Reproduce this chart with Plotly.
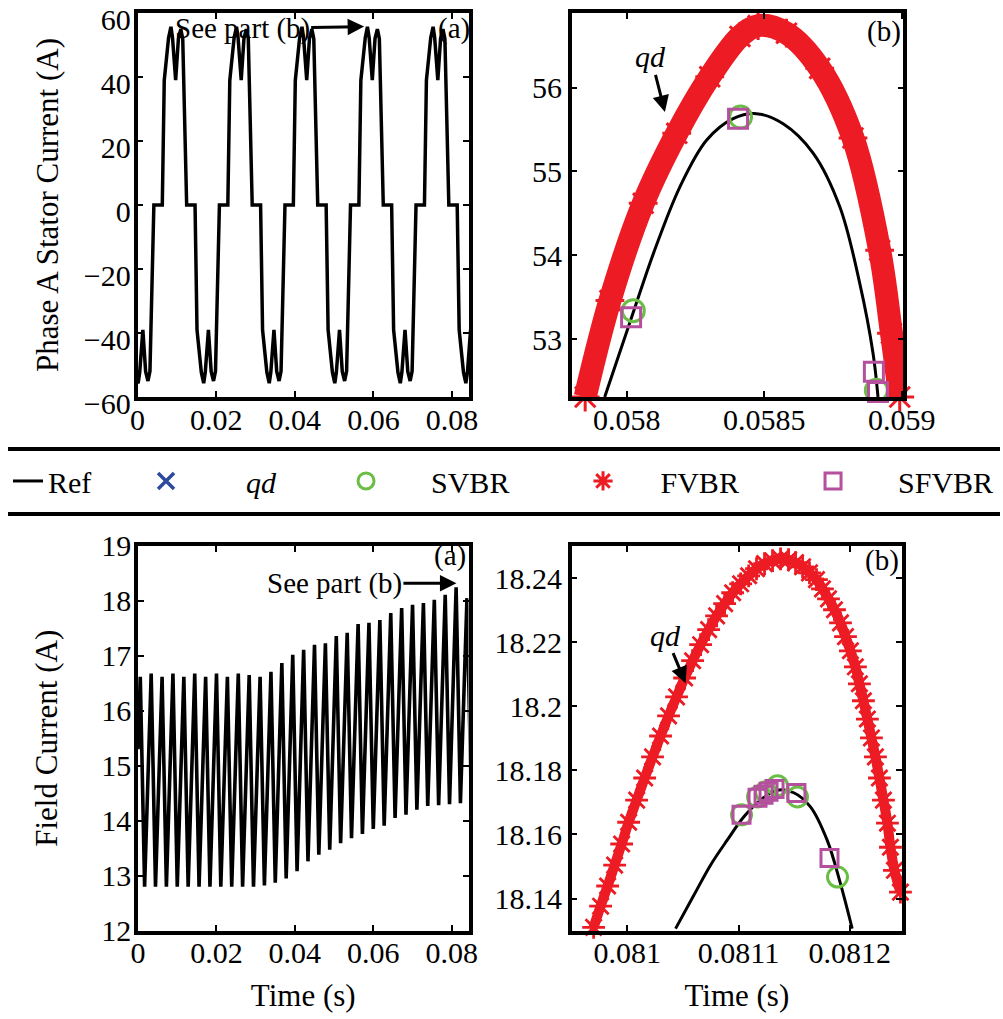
import plotly.graph_objects as go

FONT = "Liberation Serif, Times New Roman, serif"

# ---------------- data ----------------
# (a) Phase A stator current, reference waveform
phase_t = [0.0, 0.00016, 0.00056, 0.00136, 0.00206, 0.00266, 0.00316, 0.00416,
           0.0063, 0.0068, 0.0079, 0.0085, 0.0089, 0.0097, 0.0104, 0.0110, 0.0115, 0.0125,
           0.01463, 0.01513, 0.01623, 0.01683, 0.01723, 0.01803, 0.01873, 0.01933, 0.01983, 0.02083,
           0.02297, 0.02347, 0.02457, 0.02517, 0.02557, 0.02637, 0.02707, 0.02767, 0.02817, 0.02917,
           0.03130, 0.03180, 0.03290, 0.03350, 0.03390, 0.03470, 0.03540, 0.03600, 0.03650, 0.03750,
           0.03963, 0.04013, 0.04123, 0.04183, 0.04223, 0.04303, 0.04373, 0.04433, 0.04483, 0.04583,
           0.04797, 0.04847, 0.04957, 0.05017, 0.05057, 0.05137, 0.05207, 0.05267, 0.05317, 0.05417,
           0.05630, 0.05680, 0.05792, 0.05847, 0.05891, 0.05970, 0.06040, 0.06100, 0.06150, 0.06250,
           0.06463, 0.06513, 0.06623, 0.06683, 0.06723, 0.06803, 0.06873, 0.06933, 0.06983, 0.07083,
           0.07297, 0.07347, 0.07457, 0.07517, 0.07557, 0.07637, 0.07707, 0.07767, 0.07817, 0.07917,
           0.08130, 0.08180, 0.08290, 0.08350, 0.08390, 0.08470]
phase_i = [-55.3, -55.7, -52.3, -39, -52, -55, -52, 0,
           0, 39, 52.3, 55.7, 52.3, 39, 52, 55, 52, 0,
           0, -39, -52.3, -55.7, -52.3, -39, -52, -55, -52, 0,
           0, 39, 52.3, 55.7, 52.3, 39, 52, 55, 52, 0,
           0, -39, -52.3, -55.7, -52.3, -39, -52, -55, -52, 0,
           0, 39, 52.3, 55.7, 52.3, 39, 52, 55, 52, 0,
           0, -39, -52.3, -55.7, -52.3, -39, -52, -55, -52, 0,
           0, 39, 52.3, 55.7, 52.3, 39, 52, 55, 52, 0,
           0, -39, -52.3, -55.7, -52.3, -39, -52, -55, -52, 0,
           0, 39, 52.3, 55.7, 52.3, 39, 52, 55, 52, 0,
           0, -39, -52.3, -55.7, -52.3, -39]

# (b) zoom on the phase current peak
zb1_ref_t = [0.05792, 0.058024, 0.058097, 0.058194, 0.058291, 0.058387, 0.058472,
             0.058569, 0.058678, 0.058775, 0.058848, 0.058896, 0.058914]
zb1_ref_i = [52.31, 53.32, 54.02, 54.82, 55.375, 55.63, 55.69,
             55.57, 55.22, 54.58, 53.66, 52.83, 52.31]
zb1_fvbr_t = [0.057849, 0.057939, 0.05806, 0.058182, 0.058302, 0.058412, 0.058478,
              0.058581, 0.058702, 0.058823, 0.05892, 0.058963, 0.058993]
zb1_fvbr_i = [52.31, 53.46, 54.62, 55.455, 56.13, 56.61, 56.74,
              56.65, 56.23, 55.40, 54.06, 53.07, 52.31]
zb1_qd_t = zb1_fvbr_t          # qd lies under the FVBR markers
zb1_qd_i = zb1_fvbr_i
zb1_svbr_t = [0.058024, 0.058414, 0.058908]
zb1_svbr_i = [53.34, 55.65, 52.39]
zb1_sfvbr_t = [0.058016, 0.058405, 0.058899, 0.058914]
zb1_sfvbr_i = [53.26, 55.63, 52.61, 52.37]

# (a) field current: alternating peaks / troughs
field_t = [0.0,
           0.00058, 0.00168, 0.00336, 0.00446, 0.00614, 0.00724, 0.00891, 0.01001,
           0.01169, 0.01279, 0.01447, 0.01557, 0.01725, 0.01835, 0.02002, 0.02112,
           0.02280, 0.02390, 0.02558, 0.02668, 0.02836, 0.02946, 0.03114, 0.03224,
           0.03391, 0.03501, 0.03669, 0.03779, 0.03947, 0.04057, 0.04225, 0.04335,
           0.04502, 0.04612, 0.04780, 0.04890, 0.05058, 0.05168, 0.05336, 0.05446,
           0.05614, 0.05724, 0.05891, 0.06001, 0.06169, 0.06279, 0.06447, 0.06557,
           0.06725, 0.06835, 0.07003, 0.07113, 0.07280, 0.07390, 0.07558, 0.07668,
           0.07836, 0.07946, 0.08114, 0.08224, 0.08391, 0.08501]
field_i = [15.3,
           16.62, 12.8, 16.68, 12.8, 16.62, 12.8, 16.68, 12.8,
           16.62, 12.8, 16.68, 12.8, 16.62, 12.8, 16.68, 12.8,
           16.62, 12.8, 16.68, 12.8, 16.65, 12.8, 16.62, 12.82,
           16.71, 12.87, 16.87, 12.95, 17.02, 13.08, 17.11, 13.26,
           17.20, 13.38, 17.23, 13.47, 17.36, 13.59, 17.42, 13.68,
           17.58, 13.76, 17.60, 13.85, 17.65, 13.91, 17.78, 14.05,
           17.87, 14.11, 17.93, 14.20, 17.96, 14.27, 18.02, 14.28,
           18.11, 14.30, 18.246, 14.32, 18.05, 14.35]

# (b) zoom on the field current peak
zb2_ref_t = [0.0810434, 0.0810598, 0.0810748, 0.0810898, 0.0811048, 0.0811198,
             0.0811348, 0.0811497, 0.0811647, 0.0811797, 0.0811916, 0.0812022]
zb2_ref_i = [18.1306, 18.1410, 18.1504, 18.1582, 18.1655, 18.1707,
             18.1738, 18.1730, 18.1686, 18.1582, 18.1447, 18.1306]
zb2_fvbr_t = [0.0809697, 0.0809760, 0.0809823, 0.0809886, 0.0809949, 0.0810012,
              0.0810084, 0.0810156, 0.0810227, 0.0810299, 0.0810371, 0.0810443,
              0.0810515, 0.0810587, 0.0810659, 0.0810731, 0.0810803, 0.0810875,
              0.0810947, 0.0811019, 0.0811091, 0.0811162, 0.0811234, 0.0811306,
              0.0811378, 0.0811450, 0.0811513, 0.0811576, 0.0811638, 0.0811701,
              0.0811755, 0.0811809, 0.0811863, 0.0811917, 0.0811962, 0.0812006,
              0.0812051, 0.0812087, 0.0812123, 0.0812159, 0.0812195, 0.0812231,
              0.0812267, 0.0812303, 0.0812339, 0.0812366, 0.0812402, 0.0812456]
zb2_fvbr_i = [18.1310, 18.1376, 18.1439, 18.1504, 18.1570, 18.1638,
              18.1707, 18.1776, 18.1842, 18.1907, 18.1970, 18.2029,
              18.2088, 18.2142, 18.2192, 18.2239, 18.2282, 18.2320,
              18.2354, 18.2382, 18.2407, 18.2429, 18.2445, 18.2454,
              18.2460, 18.2457, 18.2448, 18.2435, 18.2416, 18.2395,
              18.2366, 18.2335, 18.2301, 18.2260, 18.2217, 18.2173,
              18.2123, 18.2070, 18.2017, 18.1960, 18.1901, 18.1842,
              18.1776, 18.1707, 18.1635, 18.1560, 18.1488, 18.1420]
zb2_qd_t = zb2_fvbr_t
zb2_qd_i = zb2_fvbr_i
zb2_svbr_t = [0.0811027, 0.0811171, 0.0811243, 0.0811351, 0.0811530, 0.0811890]
zb2_svbr_i = [18.1661, 18.1717, 18.1733, 18.1752, 18.1717, 18.1467]
zb2_sfvbr_t = [0.0811027, 0.0811171, 0.0811225, 0.0811270, 0.0811324, 0.0811521, 0.0811818]
zb2_sfvbr_i = [18.1661, 18.1714, 18.1724, 18.1733, 18.1742, 18.1729, 18.1526]

# tick labels
ticks_a_x = [0, 0.02, 0.04, 0.06, 0.08]
ticks_a_x_txt = ["0", "0.02", "0.04", "0.06", "0.08"]
ticks_phase_y = [-60, -40, -20, 0, 20, 40, 60]
ticks_zb1_x = [0.058, 0.0585, 0.059]
ticks_zb1_x_txt = ["0.058", "0.0585", "0.059"]
ticks_zb1_y = [53, 54, 55, 56]
ticks_field_y = [12, 13, 14, 15, 16, 17, 18, 19]
ticks_zb2_x = [0.081, 0.0811, 0.0812]
ticks_zb2_x_txt = ["0.081", "0.0811", "0.0812"]
ticks_zb2_y = [18.14, 18.16, 18.18, 18.2, 18.22, 18.24]
ticks_zb2_y_txt = ["18.14", "18.16", "18.18", "18.2", "18.22", "18.24"]

# ---------------- styling ----------------
RED = "#ED1C24"
GREEN = "#6ABD45"
MAGENTA = "#B4509E"
BLUE = "#2E4A9E"
NB = "\u00a0"

fig = go.Figure()

# top-left
fig.add_trace(go.Scatter(x=phase_t, y=phase_i, mode="lines", xaxis="x", yaxis="y",
                         line=dict(color="black", width=3.5), showlegend=False))

# top-right
fig.add_trace(go.Scatter(x=zb1_qd_t, y=zb1_qd_i, mode="markers", xaxis="x2", yaxis="y2",
                         name=NB * 8 + "<i>qd</i>", legendrank=2, legendwidth=155,
                         marker=dict(symbol="x-thin-open", size=16, color=BLUE,
                                     line=dict(color=BLUE, width=3.5))))
fig.add_trace(go.Scatter(x=zb1_fvbr_t, y=zb1_fvbr_i, mode="lines", xaxis="x2", yaxis="y2",
                         line=dict(color=RED, width=23, shape="spline"), showlegend=False))
fig.add_trace(go.Scatter(x=zb1_fvbr_t, y=zb1_fvbr_i, mode="markers", xaxis="x2", yaxis="y2",
                         name=NB * 5 + "FVBR", legendrank=4, legendwidth=185, cliponaxis=False,
                         marker=dict(symbol="asterisk-open", size=24, color=RED,
                                     line=dict(color=RED, width=3))))
fig.add_trace(go.Scatter(x=zb1_ref_t, y=zb1_ref_i, mode="lines", xaxis="x2", yaxis="y2",
                         name="Ref", legendrank=1, legendwidth=93,
                         line=dict(color="black", width=3, shape="spline")))
fig.add_trace(go.Scatter(x=zb1_svbr_t, y=zb1_svbr_i, mode="markers", xaxis="x2", yaxis="y2",
                         name=NB * 6 + "SVBR", legendrank=3, legendwidth=192, cliponaxis=False,
                         marker=dict(symbol="circle-open", size=22, color=GREEN,
                                     line=dict(color=GREEN, width=3))))
fig.add_trace(go.Scatter(x=zb1_sfvbr_t, y=zb1_sfvbr_i, mode="markers", xaxis="x2", yaxis="y2",
                         name=NB * 6 + "SFVBR", legendrank=5, legendwidth=140, cliponaxis=False,
                         marker=dict(symbol="square-open", size=19, color=MAGENTA,
                                     line=dict(color=MAGENTA, width=3))))

# bottom-left
fig.add_trace(go.Scatter(x=field_t, y=field_i, mode="lines", xaxis="x3", yaxis="y3",
                         line=dict(color="black", width=3.6), showlegend=False))

# bottom-right
fig.add_trace(go.Scatter(x=zb2_qd_t, y=zb2_qd_i, mode="markers", xaxis="x4", yaxis="y4",
                         showlegend=False,
                         marker=dict(symbol="x-thin-open", size=12, color=BLUE,
                                     line=dict(color=BLUE, width=2))))
fig.add_trace(go.Scatter(x=zb2_fvbr_t, y=zb2_fvbr_i, mode="lines", xaxis="x4", yaxis="y4",
                         line=dict(color=RED, width=10, shape="spline"), showlegend=False))
fig.add_trace(go.Scatter(x=zb2_fvbr_t, y=zb2_fvbr_i, mode="markers", xaxis="x4", yaxis="y4",
                         showlegend=False, cliponaxis=False,
                         marker=dict(symbol="asterisk-open", size=19, color=RED,
                                     line=dict(color=RED, width=2.8))))
fig.add_trace(go.Scatter(x=zb2_ref_t, y=zb2_ref_i, mode="lines", xaxis="x4", yaxis="y4",
                         showlegend=False, line=dict(color="black", width=3, shape="spline")))
fig.add_trace(go.Scatter(x=zb2_svbr_t, y=zb2_svbr_i, mode="markers", xaxis="x4", yaxis="y4",
                         showlegend=False, cliponaxis=False,
                         marker=dict(symbol="circle-open", size=20, color=GREEN,
                                     line=dict(color=GREEN, width=3))))
fig.add_trace(go.Scatter(x=zb2_sfvbr_t, y=zb2_sfvbr_i, mode="markers", xaxis="x4", yaxis="y4",
                         showlegend=False, cliponaxis=False,
                         marker=dict(symbol="square-open", size=17, color=MAGENTA,
                                     line=dict(color=MAGENTA, width=3))))


def ax(**kw):
    d = dict(showline=True, linecolor="black", linewidth=3.5, mirror="allticks",
             ticks="inside", ticklen=6, tickwidth=2, tickcolor="black",
             showgrid=False, zeroline=False, automargin=False,
             ticklabeloverflow="allow",
             tickfont=dict(size=30, family=FONT, color="black"))
    d.update(kw)
    return d


TITLE_FONT = dict(size=31, family=FONT, color="black")

fig.update_layout(
    width=1003, height=1019, autosize=False,
    margin=dict(l=0, r=0, t=0, b=0, autoexpand=False),
    paper_bgcolor="white", plot_bgcolor="white",
    font=dict(family=FONT, color="black", size=30),
    xaxis=ax(domain=[0.1371, 0.4676], range=[0, 0.0843], anchor="y",
             tickvals=ticks_a_x, ticktext=ticks_a_x_txt, ticklabelstandoff=-7),
    yaxis=ax(domain=[0.6104, 0.9872], range=[-60, 60], anchor="x",
             tickvals=ticks_phase_y, ticklabelstandoff=-3, ticklabelshift=6,
             title=dict(text="Phase A Stator Current (A)", font=TITLE_FONT, standoff=17)),
    xaxis2=ax(domain=[0.5700, 0.9006], range=[0.0578, 0.059006], anchor="y2",
              tickvals=ticks_zb1_x, ticktext=ticks_zb1_x_txt, ticklabelstandoff=-7),
    yaxis2=ax(domain=[0.6104, 0.9872], range=[52.31, 56.89], anchor="x2",
              tickvals=ticks_zb1_y),
    xaxis3=ax(domain=[0.1376, 0.4671], range=[0, 0.0843], anchor="y3",
              tickvals=ticks_a_x, ticktext=ticks_a_x_txt, ticklabelstandoff=-7,
              title=dict(text="Time (s)", font=TITLE_FONT, standoff=17)),
    yaxis3=ax(domain=[0.0868, 0.4642], range=[12, 19], anchor="x3",
              tickvals=ticks_field_y, ticklabelstandoff=-3,
              title=dict(text="Field Current (A)", font=TITLE_FONT, standoff=35)),
    xaxis4=ax(domain=[0.5700, 0.8993], range=[0.08095, 0.081247], anchor="y4",
              tickvals=ticks_zb2_x, ticktext=ticks_zb2_x_txt, ticklabelstandoff=-7,
              title=dict(text="Time (s)", font=TITLE_FONT, standoff=17)),
    yaxis4=ax(domain=[0.0868, 0.4642], range=[18.13, 18.25], anchor="x4",
              tickvals=ticks_zb2_y, ticktext=ticks_zb2_y_txt),
    legend=dict(orientation="h", x=0.008, xanchor="left", y=0.528, yanchor="middle",
                font=dict(size=30, family=FONT, color="black"),
                itemwidth=30, itemsizing="trace", bgcolor="rgba(0,0,0,0)",
                borderwidth=0, traceorder="normal"),
    shapes=[
        dict(type="line", xref="paper", yref="paper", x0=0.008, x1=0.997,
             y0=0.5594, y1=0.5594, line=dict(color="black", width=4)),
        dict(type="line", xref="paper", yref="paper", x0=0.008, x1=0.997,
             y0=0.4956, y1=0.4956, line=dict(color="black", width=4)),
    ],
)

ANN_FONT = dict(size=29, family=FONT, color="black")
arrow = dict(showarrow=True, arrowhead=2, arrowsize=1.1, arrowwidth=3, arrowcolor="black")
annotations = [
    dict(text="(a)", xref="x domain", yref="y domain", x=1.01, y=0.961,
         xanchor="right", yanchor="middle", showarrow=False, font=ANN_FONT),
    dict(text="(b)", xref="x2 domain", yref="y2 domain", x=0.999, y=0.952,
         xanchor="right", yanchor="middle", showarrow=False, font=ANN_FONT),
    dict(text="(a)", xref="x3 domain", yref="y3 domain", x=0.998, y=0.974,
         xanchor="right", yanchor="middle", showarrow=False, font=ANN_FONT),
    dict(text="(b)", xref="x4 domain", yref="y4 domain", x=0.997, y=0.961,
         xanchor="right", yanchor="middle", showarrow=False, font=ANN_FONT),
    dict(text="See part (b)", xref="x", yref="y", x=0.05763, y=55.76,
         ax=-122, ay=2, font=ANN_FONT, **arrow),
    dict(text="See part (b)", xref="x3", yref="y3", x=0.08122, y=18.32,
         ax=-122, ay=0, font=ANN_FONT, **arrow),
    dict(text="<i>qd</i>", xref="x2", yref="y2", x=0.058139, y=55.71,
         ax=-14, ay=-55, font=dict(size=30, family=FONT, color="black"), **arrow),
    dict(text="<i>qd</i>", xref="x4", yref="y4", x=0.0810524, y=18.2072,
         ax=-20, ay=-48, font=dict(size=30, family=FONT, color="black"), **arrow),
]
fig.update_layout(annotations=annotations)

fig.write_html("out.html")
